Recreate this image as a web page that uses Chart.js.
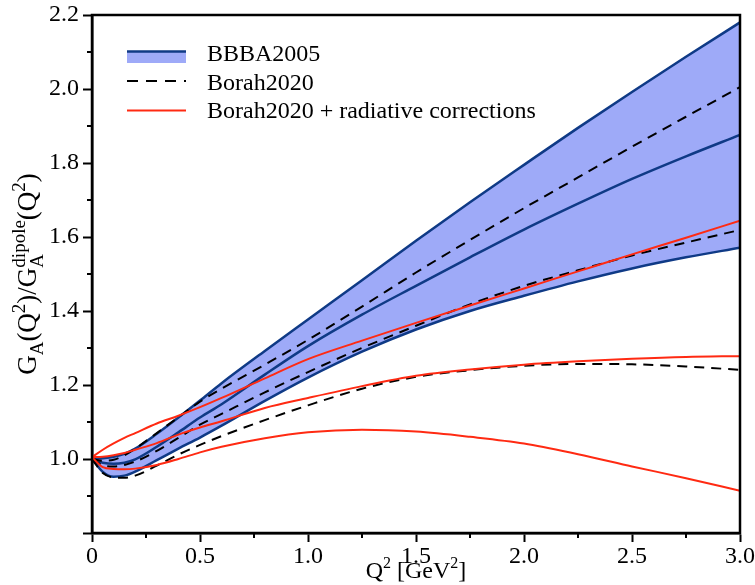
<!DOCTYPE html>
<html>
<head>
<meta charset="utf-8">
<script src="https://cdn.jsdelivr.net/npm/chart.js@4.4.1/dist/chart.umd.min.js"></script>
<style>
    body { margin: 0; background: #ffffff; }
    canvas { display: block; }
</style>
</head>
<body>
<canvas id="gaChart" width="755" height="585"></canvas>
<script>
// Q^2 grid (GeV^2) and G_A / G_A^dipole curves
const A_q2 = [0, 0.05, 0.1, 0.15, 0.2, 0.3, 0.4, 0.5, 0.6, 0.8, 1.0, 1.25, 1.5, 1.75, 2.0, 2.25, 2.5, 2.75, 3.0];

const A_bbbaUp  = [1.0, 1.002, 1.006, 1.014, 1.028, 1.068, 1.112, 1.158, 1.205, 1.292, 1.377, 1.483, 1.590, 1.694, 1.795, 1.895, 1.992, 2.087, 2.180];
const A_bbbaMid = [1.0, 0.990, 0.987, 0.990, 0.999, 1.033, 1.072, 1.112, 1.148, 1.228, 1.305, 1.390, 1.468, 1.545, 1.620, 1.690, 1.757, 1.818, 1.876];
const A_bbbaLow = [1.0, 0.965, 0.952, 0.955, 0.966, 0.997, 1.028, 1.058, 1.090, 1.157, 1.220, 1.290, 1.350, 1.400, 1.441, 1.480, 1.515, 1.545, 1.571];

const A_borahUp  = [1.0, 0.995, 0.998, 1.010, 1.028, 1.070, 1.113, 1.155, 1.190, 1.255, 1.322, 1.412, 1.504, 1.592, 1.678, 1.761, 1.844, 1.925, 2.005];
const A_borahMid = [1.0, 0.983, 0.980, 0.984, 0.993, 1.022, 1.057, 1.093, 1.122, 1.180, 1.235, 1.300, 1.360, 1.418, 1.468, 1.510, 1.550, 1.585, 1.619];
const A_borahLow = [1.0, 0.962, 0.950, 0.949, 0.955, 0.982, 1.012, 1.038, 1.062, 1.105, 1.145, 1.190, 1.222, 1.240, 1.252, 1.257, 1.256, 1.250, 1.241];

const A_radUp  = [1.005, 1.025, 1.042, 1.057, 1.070, 1.096, 1.117, 1.140, 1.165, 1.218, 1.270, 1.320, 1.368, 1.415, 1.461, 1.507, 1.553, 1.598, 1.644];
const A_radMid = [1.005, 1.006, 1.010, 1.016, 1.025, 1.043, 1.066, 1.085, 1.102, 1.138, 1.165, 1.197, 1.225, 1.242, 1.255, 1.264, 1.271, 1.276, 1.278];
const A_radLow = [1.005, 0.978, 0.973, 0.972, 0.974, 0.984, 1.000, 1.018, 1.033, 1.056, 1.072, 1.079, 1.074, 1.060, 1.042, 1.013, 0.980, 0.948, 0.914];

const A_legend = ["BBBA2005", "Borah2020", "Borah2020 + radiative corrections"];
const A_xTicks = [0, 0.5, 1.0, 1.5, 2.0, 2.5, 3.0];
const A_xMinor = [0.25, 0.75, 1.25, 1.75, 2.25, 2.75];
const A_yMinor = [0.9, 1.1, 1.3, 1.5, 1.7, 1.9, 2.1];

const blueLine = "#0f3a86";
const blueFill = "#9eaaf8";
const redLine = "#ff2a12";
const serif = "'Liberation Serif', 'Times New Roman', serif";

function pts(A_y)
{
    return A_q2.map((q, i) => ({ x: q, y: A_y[i] }));
}

function line(A_y, color, width, dash, order)
{
    return {
        data: pts(A_y),
        borderColor: color,
        borderWidth: width,
        borderDash: dash,
        pointRadius: 0,
        cubicInterpolationMode: "monotone",
        fill: false,
        order: order
    };
}

// text with sub/superscripts, centred on cx
function drawRich(c, parts, cx, baseY, big, small)
{
    const fMain = big + "px " + serif;
    const fSmall = small + "px " + serif;
    const subOff = Math.round(small * 0.38);
    const supOff = Math.round(big * 0.42);
    let total = 0;
    parts.forEach(p => {
        if (p.t !== undefined) { c.font = fMain; p.w = c.measureText(p.t).width; }
        else
        {
            c.font = fSmall;
            p.w = Math.max(p.sub ? c.measureText(p.sub).width : 0, p.sup ? c.measureText(p.sup).width : 0);
        }
        total += p.w;
    });
    let x = cx - total / 2;
    c.textAlign = "left";
    c.textBaseline = "alphabetic";
    parts.forEach(p => {
        if (p.t !== undefined) { c.font = fMain; c.fillText(p.t, x, baseY); }
        else
        {
            c.font = fSmall;
            if (p.sub) c.fillText(p.sub, x, baseY + subOff);
            if (p.sup) c.fillText(p.sup, x, baseY - supOff);
        }
        x += p.w;
    });
}

const decorPlugin = {
    id: "decor",
    afterDraw(chart)
    {
        const c = chart.ctx;
        const area = chart.chartArea;
        const xs = chart.scales.x;
        const ys = chart.scales.y;
        c.save();
        c.fillStyle = "#000";
        c.strokeStyle = "#000";

        // frame
        c.lineWidth = 2.5;
        c.strokeRect(area.left, area.top, area.right - area.left, area.bottom - area.top);

        // minor ticks
        c.lineWidth = 2;
        c.beginPath();
        A_xMinor.forEach(v => {
            const px = xs.getPixelForValue(v);
            c.moveTo(px, area.bottom);
            c.lineTo(px, area.bottom + 5);
        });
        A_yMinor.forEach(v => {
            const py = ys.getPixelForValue(v);
            c.moveTo(area.left, py);
            c.lineTo(area.left - 5, py);
        });
        c.stroke();

        // axis titles
        drawRich(c, [{ t: "Q" }, { sup: "2" }, { t: " [GeV" }, { sup: "2" }, { t: "]" }], 416, 578, 24, 16);

        c.save();
        c.translate(36, (area.top + area.bottom) / 2);
        c.rotate(-Math.PI / 2);
        drawRich(c, [
            { t: "G" }, { sub: "A" }, { t: "(Q" }, { sup: "2" }, { t: ")/G" },
            { sub: "A", sup: "dipole" }, { t: "(Q" }, { sup: "2" }, { t: ")" }
        ], 0, 0, 27, 19);
        c.restore();

        // legend
        const sx0 = 127, sx1 = 186, tx = 207;
        const A_base = [61, 89.5, 118];
        c.fillStyle = blueFill;
        c.fillRect(sx0, 51, sx1 - sx0, 12);
        c.strokeStyle = blueLine;
        c.lineWidth = 2.5;
        c.beginPath(); c.moveTo(sx0, 51.5); c.lineTo(sx1, 51.5); c.stroke();

        c.strokeStyle = "#000";
        c.lineWidth = 2;
        c.setLineDash([11, 8]);
        c.beginPath(); c.moveTo(sx0, 81); c.lineTo(sx1, 81); c.stroke();
        c.setLineDash([]);

        c.strokeStyle = redLine;
        c.beginPath(); c.moveTo(sx0, 110.5); c.lineTo(sx1, 110.5); c.stroke();

        c.fillStyle = "#000";
        c.font = "24px " + serif;
        c.textAlign = "left";
        c.textBaseline = "alphabetic";
        A_legend.forEach((txt, i) => c.fillText(txt, tx, A_base[i]));
        c.restore();
    }
};

const ctx = document.getElementById("gaChart").getContext("2d");
const gaChart = new Chart(ctx, {
    type: "line",
    data: {
        datasets: [
            line(A_radUp, redLine, 2, [], 1),
            line(A_radMid, redLine, 2, [], 1),
            line(A_radLow, redLine, 2, [], 1),
            line(A_borahUp, "#000", 2, [10, 7], 2),
            line(A_borahMid, "#000", 2, [10, 7], 2),
            line(A_borahLow, "#000", 2, [10, 7], 2),
            line(A_bbbaMid, blueLine, 2.5, [], 3),
            line(A_bbbaLow, blueLine, 2.5, [], 3),
            Object.assign(line(A_bbbaUp, blueLine, 2.5, [], 4), {
                fill: { target: 7, above: blueFill, below: blueFill }
            })
        ]
    },
    options: {
        responsive: false,
        animation: false,
        layout: { padding: { top: 15, right: 15, left: 0, bottom: 0 } },
        plugins: {
            legend: { display: false },
            tooltip: { enabled: false }
        },
        scales: {
            x: {
                type: "linear",
                min: 0,
                max: 3,
                afterBuildTicks: (scale) => { scale.ticks = A_xTicks.map(v => ({ value: v })); },
                afterFit: (scale) => { scale.height = 52; scale.paddingLeft = 0; scale.paddingRight = 0; },
                ticks: {
                    color: "#000",
                    font: { family: serif, size: 24 },
                    padding: 0,
                    maxRotation: 0,
                    callback: (v) => v === 0 ? "0" : v.toFixed(1)
                },
                grid: { drawOnChartArea: false, drawTicks: true, tickLength: 9, tickWidth: 2, tickColor: "#000" },
                border: { color: "#000", width: 2.5 }
            },
            y: {
                min: 0.8,
                max: 2.2,
                afterFit: (scale) => { scale.width = 92; scale.paddingTop = 0; scale.paddingBottom = 0; },
                ticks: {
                    stepSize: 0.2,
                    color: "#000",
                    font: { family: serif, size: 24 },
                    padding: 4,
                    callback: (v) => Math.abs(v - 0.8) < 1e-6 ? "" : v.toFixed(1)
                },
                grid: { drawOnChartArea: false, drawTicks: true, tickLength: 9, tickWidth: 2, tickColor: "#000" },
                border: { color: "#000", width: 2.5 }
            }
        }
    },
    plugins: [decorPlugin]
});
</script>
</body>
</html>
